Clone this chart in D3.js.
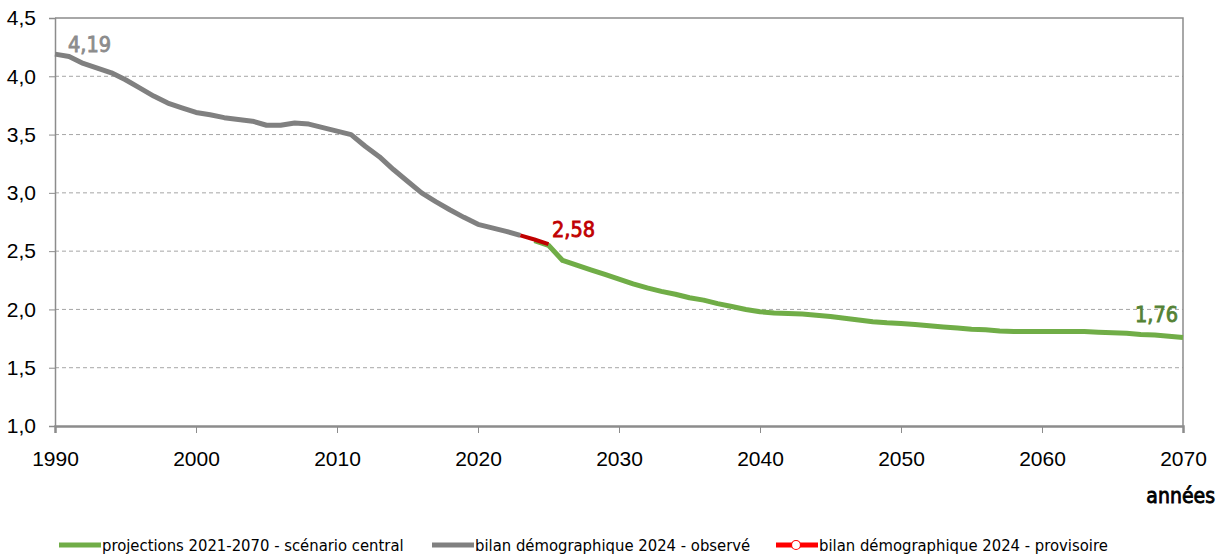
<!DOCTYPE html>
<html>
<head>
  <meta charset="utf-8">
  <title>Nombre moyen de personnes</title>
  <script src="https://cdn.jsdelivr.net/npm/d3@7"></script>
  <style>
    body { margin: 0; background: #fff; }
    svg { font-family: "Liberation Sans Narrow", "DejaVu Sans Condensed", "Open Sans", sans-serif; }
    .bold { stroke-width: 0.8px; paint-order: stroke; }
  </style>
</head>
<body>
  <div id="chart"></div>
  <script>
    // observed series (bilan démographique 2024 - observé)
    const observedYears = [1990, 1991, 1992, 1993, 1994, 1995, 1996, 1997, 1998, 1999,
      2000, 2001, 2002, 2003, 2004, 2005, 2006, 2007, 2008, 2009,
      2010, 2011, 2012, 2013, 2014, 2015, 2016, 2017, 2018, 2019,
      2020, 2021, 2022, 2023]
    const observedValues = [4.19, 4.17, 4.11, 4.07, 4.03, 3.97, 3.90, 3.83, 3.77, 3.73,
      3.69, 3.67, 3.645, 3.63, 3.615, 3.58, 3.58, 3.60, 3.59, 3.56,
      3.53, 3.50, 3.40, 3.31, 3.20, 3.10, 3.00, 2.925, 2.855, 2.79,
      2.73, 2.70, 2.67, 2.635]

    // provisional series (bilan démographique 2024 - provisoire)
    const provisionalYears = [2023, 2024, 2025]
    const provisionalValues = [2.635, 2.60, 2.56]

    // projections 2021-2070 - scénario central
    const projectionYears = [2024, 2025, 2026, 2027, 2028, 2029, 2030, 2031, 2032, 2033,
      2034, 2035, 2036, 2037, 2038, 2039, 2040, 2041, 2042, 2043,
      2044, 2045, 2046, 2047, 2048, 2049, 2050, 2051, 2052, 2053,
      2054, 2055, 2056, 2057, 2058, 2059, 2060, 2061, 2062, 2063,
      2064, 2065, 2066, 2067, 2068, 2069, 2070]
    const projectionValues = [2.59, 2.55, 2.42, 2.38, 2.34, 2.30, 2.26, 2.22, 2.185, 2.155,
      2.13, 2.10, 2.08, 2.05, 2.025, 2.00, 1.98, 1.97, 1.965, 1.96,
      1.95, 1.94, 1.925, 1.91, 1.895, 1.885, 1.88, 1.87, 1.86, 1.85,
      1.84, 1.83, 1.825, 1.815, 1.81, 1.81, 1.81, 1.81, 1.81, 1.81,
      1.805, 1.80, 1.795, 1.785, 1.78, 1.77, 1.76]

    const xTicks = [1990, 2000, 2010, 2020, 2030, 2040, 2050, 2060, 2070]
    const yTicks = [1.0, 1.5, 2.0, 2.5, 3.0, 3.5, 4.0, 4.5]

    const labelTexts = ["4,19", "2,58", "1,76"]
    const legendLabels = [
      "projections 2021-2070 - scénario central",
      "bilan démographique 2024 - observé",
      "bilan démographique 2024 - provisoire"
    ]
    const xTitle = "années"

    // setup
    const width = 1217
    const height = 555
    const plotLeft = 55, plotRight = 1183, plotTop = 18, plotBottom = 426

    const green = "#70ad47", gray = "#808080", red = "#c00000"

    const svg = d3.select("#chart").append("svg")
      .attr("width", width)
      .attr("height", height)

    const x = d3.scaleLinear().domain([1990, 2070]).range([plotLeft, plotRight])
    const y = d3.scaleLinear().domain([1, 4.5]).range([plotBottom, plotTop])
    const fmt = v => d3.format(".1f")(v).replace(".", ",")

    // gridlines
    svg.append("g")
      .selectAll("line")
      .data(yTicks.filter(t => t > 1 && t < 4.5))
      .join("line")
      .attr("x1", plotLeft).attr("x2", plotRight)
      .attr("y1", d => y(d)).attr("y2", d => y(d))
      .attr("stroke", "#a6a6a6")
      .attr("stroke-dasharray", "4,3")

    // plot border top / right
    svg.append("path")
      .attr("d", `M${plotLeft},${plotTop}H${plotRight}V${plotBottom}`)
      .attr("fill", "none")
      .attr("stroke", "#8c8c8c")
      .attr("stroke-width", 1.5)

    // axes
    const yAxis = svg.append("g")
      .attr("transform", `translate(${plotLeft},0)`)
      .call(d3.axisLeft(y).tickValues(yTicks).tickFormat(fmt).tickSize(6).tickPadding(13))
    yAxis.select(".domain").attr("stroke", "#8c8c8c").attr("stroke-width", 1.5)
    yAxis.selectAll(".tick line").attr("stroke", "#8c8c8c")
    yAxis.selectAll("text").attr("font-size", 21).attr("fill", "#000")

    const xAxis = svg.append("g")
      .attr("transform", `translate(0,${plotBottom})`)
      .call(d3.axisBottom(x).tickValues(xTicks).tickFormat(d3.format("d")).tickSize(7).tickPadding(18))
    xAxis.select(".domain").attr("stroke", "#8c8c8c").attr("stroke-width", 2.5)
    xAxis.selectAll(".tick line").attr("stroke", "#8c8c8c")
    xAxis.selectAll("text").attr("font-size", 21).attr("fill", "#000")

    svg.append("text")
      .attr("class", "bold")
      .attr("x", 1215).attr("y", 503)
      .attr("text-anchor", "end")
      .attr("font-size", 21)
      .attr("fill", "#000")
      .attr("stroke", "#000")
      .text(xTitle)

    // lines
    const line = d3.line()
      .x(d => x(d[0]))
      .y(d => y(d[1]))

    const series = [
      { years: projectionYears, values: projectionValues, color: green, w: 5 },
      { years: observedYears, values: observedValues, color: gray, w: 5 },
      { years: provisionalYears, values: provisionalValues, color: red, w: 4 }
    ]

    svg.append("g")
      .selectAll("path")
      .data(series)
      .join("path")
      .attr("fill", "none")
      .attr("stroke", d => d.color)
      .attr("stroke-width", d => d.w)
      .attr("stroke-linejoin", "round")
      .attr("d", d => line(d3.zip(d.years, d.values)))

    // value labels
    const callouts = [
      { year: observedYears[0], value: observedValues[0], dx: 13, dy: -2, anchor: "start", color: "#8c8c8c", text: labelTexts[0] },
      { year: provisionalYears[2], value: provisionalValues[2], dx: 3.5, dy: -7, anchor: "start", color: red, text: labelTexts[1] },
      { year: projectionYears[projectionYears.length - 1], value: projectionValues[projectionValues.length - 1], dx: -5, dy: -15, anchor: "end", color: "#548235", text: labelTexts[2] }
    ]
    svg.append("g")
      .selectAll("text")
      .data(callouts)
      .join("text")
      .attr("class", "bold")
      .attr("x", d => x(d.year) + d.dx)
      .attr("y", d => y(d.value) + d.dy)
      .attr("text-anchor", d => d.anchor)
      .attr("fill", d => d.color)
      .attr("stroke", d => d.color)
      .attr("font-size", 21.5)
      .text(d => d.text)

    // legend
    const legendItems = [
      { label: legendLabels[0], color: green, x0: 59, marker: false },
      { label: legendLabels[1], color: gray, x0: 432, marker: false },
      { label: legendLabels[2], color: "#ff0000", x0: 776, marker: true }
    ]
    const legend = svg.append("g").attr("transform", "translate(0,545)")
    const item = legend.selectAll("g")
      .data(legendItems)
      .join("g")
      .attr("transform", d => `translate(${d.x0},0)`)
    item.append("line")
      .attr("x1", 0).attr("x2", 42)
      .attr("stroke", d => d.color)
      .attr("stroke-width", 5)
    item.filter(d => d.marker).append("circle")
      .attr("cx", 20).attr("r", 4.5)
      .attr("fill", "#fff")
      .attr("stroke", d => d.color)
      .attr("stroke-width", 1.2)
    item.append("text")
      .attr("x", 43)
      .attr("dy", "0.35em")
      .attr("font-size", 16.5)
      .text(d => d.label)
  </script>
</body>
</html>
